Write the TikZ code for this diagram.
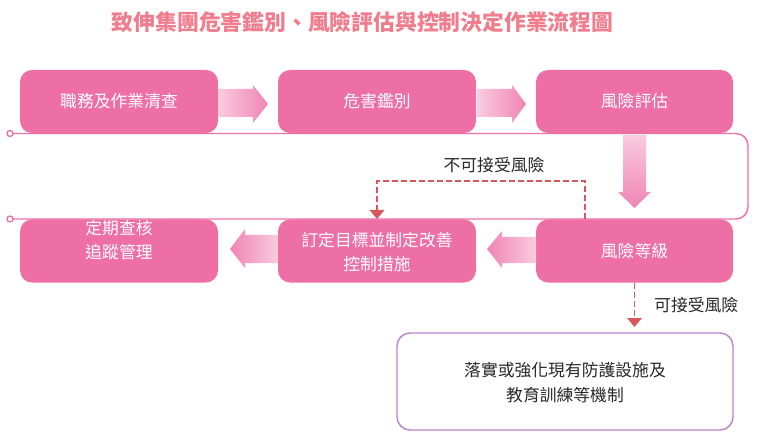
\documentclass[tikz,border=0pt]{standalone}
\usepackage{fontspec}
\setmainfont{Noto Sans CJK TC}
\usetikzlibrary{arrows.meta}
\definecolor{boxpink}{RGB}{238,110,166}
\definecolor{titlepink}{RGB}{240,124,140}
\definecolor{dashred}{RGB}{214,88,94}
\definecolor{lavender}{RGB}{183,132,203}
\definecolor{arrlight}{RGB}{249,204,222}
\definecolor{arrdark}{RGB}{240,132,180}
\definecolor{txtdark}{RGB}{40,40,40}
\tikzset{
  pinkbox/.style={fill=boxpink, draw=none, rounded corners=12pt, minimum width=198pt, minimum height=63pt, inner sep=0pt},
  boxtext/.style={text=white, font=\fontsize{16.8}{24.5}\selectfont, align=center, inner sep=0pt},
  lbl/.style={text=txtdark, font=\fontsize{16.8}{25}\selectfont, align=center, inner sep=0pt},
  dashconn/.style={draw=dashred, line width=1.8pt, dash pattern=on 6pt off 3pt},
  tri/.style={fill=dashred, draw=none},
}
\begin{document}
\begin{tikzpicture}[x=1pt,y=-1pt]
\useasboundingbox (0,0) rectangle (757,438);
% title
\node[text=titlepink, font=\fontsize{21.8}{26}\selectfont\bfseries, inner sep=0pt] (title) at (362.5,22) {致伸集團危害鑑別、風險評估與控制決定作業流程圖};
% top row
\node[pinkbox] (b1) at (119,101.5) {};
\node[pinkbox] (b2) at (377,101.5) {};
\node[pinkbox, minimum width=197pt] (b3) at (634.5,101.5) {};
% bottom row
\node[pinkbox] (c1) at (119,251) {};
\node[pinkbox] (c2) at (377,251) {};
\node[pinkbox, minimum width=197pt] (c3) at (634.5,251) {};
% band
\fill[white, rounded corners=12pt] (15,133.5) -- (748,133.5) -- (748,219) -- (15,219) -- cycle;
\draw[boxpink, line width=1.4pt, rounded corners=12pt] (13,133.5) -- (748,133.5) -- (748,219) -- (13,219);
\node[circle, draw=boxpink, fill=white, line width=1.3pt, minimum size=6pt, inner sep=0pt] (o1) at (10,133.5) {};
\node[circle, draw=boxpink, fill=white, line width=1.3pt, minimum size=6pt, inner sep=0pt] (o2) at (10,219) {};
% texts
\node[boxtext] (t1) at (119,101.5) {職務及作業清查};
\node[boxtext] (t2) at (377,101.5) {危害鑑別};
\node[boxtext] (t3) at (634.5,101.5) {風險評估};
\node[boxtext] (u1) at (119,240) {定期查核\\追蹤管理};
\node[boxtext] (u2) at (377,252) {訂定目標並制定改善\\控制措施};
\node[boxtext] (u3) at (634.5,251) {風險等級};
% gradient arrows (right)
\shade[left color=arrlight, right color=arrdark] (218,89) -- (253,89) -- (253,85) -- (268,104) -- (253,123) -- (253,117) -- (218,117) -- cycle;
\shade[left color=arrlight, right color=arrdark] (477,89) -- (512,89) -- (512,85) -- (526,104) -- (512,123) -- (512,117) -- (477,117) -- cycle;
% down arrow
\shade[top color=arrlight, bottom color=arrdark] (623,135) -- (646,135) -- (646,192) -- (651,192) -- (634.5,208) -- (618,192) -- (623,192) -- cycle;
% left arrows
\shade[left color=arrdark, right color=arrlight] (230,249) -- (245,229) -- (245,235) -- (278,235) -- (278,263) -- (245,263) -- (245,268) -- cycle;
\shade[left color=arrdark, right color=arrlight] (487,249) -- (502,231) -- (502,237) -- (536,237) -- (536,263) -- (502,263) -- (502,268) -- cycle;
% unacceptable risk: dashed connector
\coordinate (d1) at (585,219);
\coordinate (d2) at (377,210);
\draw[dashconn] (d1) -- (585,181) -- (377,181) -- (d2);
\fill[tri] (369.5,210) -- (384.5,210) -- (377,219) -- cycle;
\node[lbl] (l1) at (494,165) {不可接受風險};
% acceptable risk
\node[draw=lavender, line width=1.4pt, rounded corners=13pt, minimum width=336pt, minimum height=97pt, inner sep=0pt] (e) at (565,381.5) {};
\node[lbl] (e1) at (565,383) {落實或強化現有防護設施及\\教育訓練等機制};
\coordinate (d3) at (634.5,318);
\draw[dashconn] (c3.south -| d3) -- (d3);
\fill[tri] (627,318) -- (642,318) -- (634.5,327) -- cycle;
\node[lbl, anchor=west] (l2) at (654,305) {可接受風險};
\end{tikzpicture}
\end{document}
